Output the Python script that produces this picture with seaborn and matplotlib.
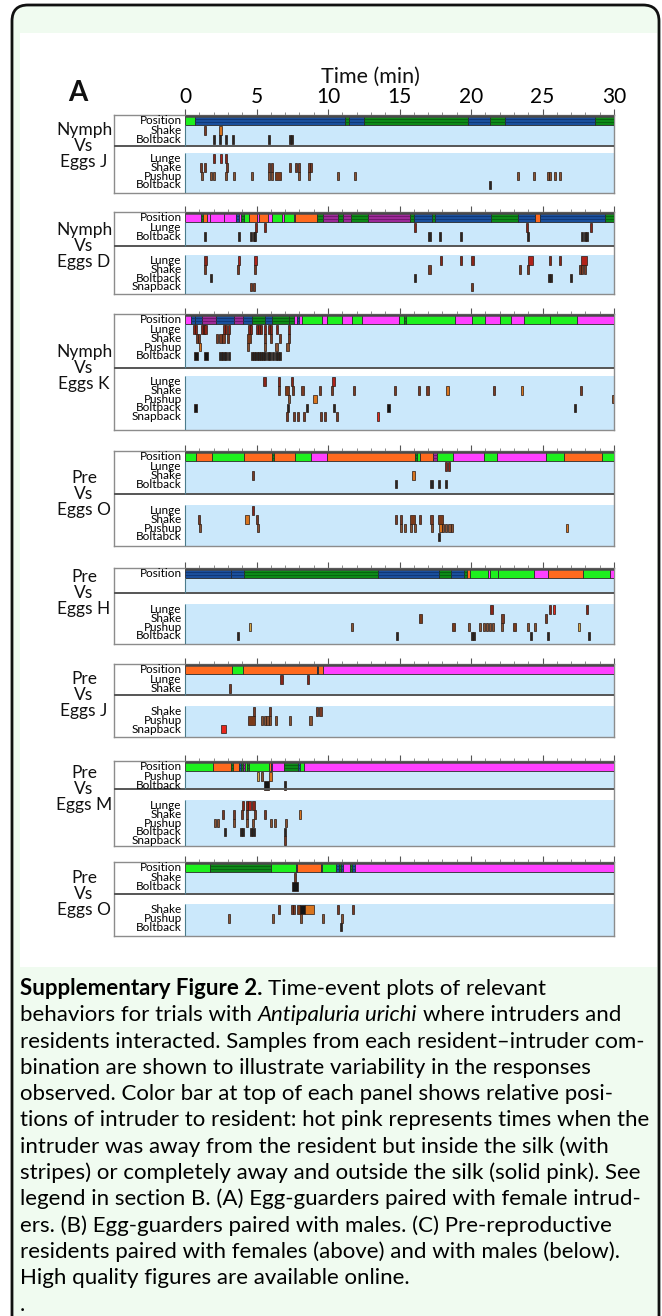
"""
Supplementary Figure 2 (panel A): time-event plots for Antipaluria urichi trials
"""
import matplotlib
matplotlib.use("Agg")
import matplotlib.pyplot as plt
from matplotlib.patches import FancyBboxPatch, Rectangle
import seaborn as sns

# ---------------------------------------------------------------------------
# data: position segments (start min, end min, code) and event times per row
# an event is a time (short mark) or (start, end, kind)
# codes: G light green, g dark green striped, b blue striped, p purple striped,
#        o orange, m hot pink
# ---------------------------------------------------------------------------
GROUPS = [("Nymph", "Eggs J"), ("Nymph", "Eggs D"), ("Nymph", "Eggs K"),
          ("Pre", "Eggs O"), ("Pre", "Eggs H"), ("Pre", "Eggs J"),
          ("Pre", "Eggs M"), ("Pre", "Eggs O")]

P1_POS = [(0, 0.73, 'G'), (0.73, 11.17, 'b'), (11.17, 11.5, 'g'), (11.5, 12.5, 'b'),
          (12.5, 19.8, 'g'), (19.8, 21.3, 'b'), (21.3, 22.4, 'g'), (22.4, 28.7, 'b'),
          (28.7, 30, 'g')]
P1_TOP = ["Shake", "Boltback"]
P1_TOP_EV = [[1.37, (2.4, 2.6, 'o')],
             [2.0, 2.46, 2.88, 3.37, 5.9, 7.33, 7.49]]
P1_BOT = ["Lunge", "Shake", "Pushup", "Boltback"]
P1_BOT_EV = [[2.0, (2.43, 2.62, 'r'), 2.88],
             [1.11, 1.37, 2.93, 5.85, 6.1, 7.33, 7.75, 7.98, 8.68, 8.83],
             [1.17, 1.84, 2.0, 2.88, 3.45, 4.69, 5.9, 6.1, (6.3, 6.7, 'w'), 7.98, 8.68,
              10.7, 11.9, 23.3, 24.4, 25.4, 25.55, 25.85, 26.2],
             [21.3]]

P2_POS = [(0, 1.1, 'm'), (1.1, 1.25, 'g'), (1.25, 1.55, 'o'), (1.55, 1.74, 'm'),
          (1.74, 2.7, 'm'), (2.7, 3.58, 'm'), (3.58, 3.76, 'b'), (3.76, 3.9, 'm'),
          (3.9, 4.1, 'g'), (4.1, 4.5, 'G'), (4.5, 5.05, 'o'), (5.05, 5.18, 'm'),
          (5.18, 5.78, 'o'), (5.78, 6.1, 'm'), (6.1, 6.75, 'G'), (6.75, 6.9, 'm'),
          (6.9, 7.6, 'G'), (7.6, 7.72, 'm'), (7.72, 9.2, 'o'), (9.2, 9.67, 'g'),
          (9.67, 10.7, 'p'), (10.7, 11.05, 'g'), (11.05, 11.6, 'p'), (11.6, 12.83, 'g'),
          (12.83, 15.7, 'p'), (15.7, 16.0, 'g'), (16.0, 17.27, 'b'), (17.27, 17.45, 'g'),
          (17.45, 21.4, 'b'), (21.4, 23.3, 'g'), (23.3, 24.5, 'b'), (24.5, 24.86, 'o'),
          (24.86, 29.4, 'b'), (29.4, 30, 'g')]
P2_TOP = ["Lunge", "Boltback"]
P2_TOP_EV = [[4.95, 5.6, 16.07, 23.9, 28.4],
             [1.37, 3.76, 4.64, 4.82, 4.9, 17.1, 17.85, 19.3, 24.0, 27.75, 27.95, 28.1]]
P2_BOT = ["Lunge", "Shake", "Boltback", "Snapback"]
P2_BOT_EV = [[1.43, (3.7, 3.85, 'r'), (4.85, 5.0, 'r'), 17.9, 19.3, 20.1, (24.0, 24.35, 'r'),
              25.5, 26.2, (27.7, 28.1, 'r')],
             [1.4, 3.7, 4.9, 17.1, 23.4, 24.0, 27.6, 27.75, 28.0],
             [1.81, 16.1, 25.45, 25.6, 27.0],
             [4.64, 4.82, 20.05]]

P3_POS = [(0, 0.4, 'm'), (0.4, 0.7, 'b'), (0.7, 1.2, 'b'), (1.2, 2.2, 'p'), (2.2, 3.4, 'b'),
          (3.4, 4.05, 'p'), (4.05, 4.7, 'b'), (4.7, 5.6, 'g'), (5.6, 6.1, 'b'), (6.1, 7.3, 'g'),
          (7.3, 7.6, 'g'), (7.6, 7.8, 'm'), (7.8, 8.0, 'b'), (8.0, 8.2, 'm'), (8.2, 9.6, 'G'),
          (9.6, 9.9, 'm'), (9.9, 11.0, 'G'), (11.0, 11.7, 'm'), (11.7, 12.4, 'G'),
          (12.4, 14.95, 'm'), (14.95, 15.3, 'G'), (15.3, 15.45, 'g'), (15.45, 18.9, 'G'),
          (18.9, 20.1, 'm'), (20.1, 21.0, 'G'), (21.0, 22.0, 'm'), (22.0, 22.8, 'G'),
          (22.8, 23.7, 'm'), (23.7, 25.5, 'G'), (25.5, 27.4, 'G'), (27.4, 30, 'm')]
P3_TOP = ["Lunge", "Shake", "Pushup", "Boltback"]
P3_TOP_EV = [[0.65, 0.78, 1.17, 1.3, 1.43, 2.74, 2.87, 3.05, 4.51, 4.64, 5.03, 5.17, 5.3,
              5.6, 5.87, 6.0, 6.44, 7.3],
             [0.86, 0.97, 2.22, 2.48, 2.69, 3.0, (4.35, 4.62, 'w'), 5.61, 6.0, 6.65, 7.3],
             [(0.95, 1.05, 'o'), 4.43, 5.6, 6.4, 7.17],
             [(0.6, 0.9, 'k'), (1.3, 1.6, 'k'), 2.48, 2.69, 2.87, 3.05, 4.7, 4.85, 5.0, 5.15,
              5.3, 5.45, 5.6, 5.8, 5.95, 6.13, 6.34, 6.52, 6.65]]
P3_BOT = ["Lunge", "Shake", "Pushup", "Boltback", "Snapback"]
P3_BOT_EV = [[5.56, 6.57, 7.49, (10.25, 10.5, 'r')],
             [6.6, (7.0, 7.25, 'w'), 7.54, 8.22, 9.47, 10.25, 11.82, 14.69, 16.36, 16.96,
              (18.25, 18.45, 'o'), 21.6, (23.5, 23.65, 'o'), 27.7],
             [7.3, (8.95, 9.25, 'o'), 29.92],
             [(0.6, 0.85, 'k'), 7.22, 8.55, 10.43, (14.1, 14.35, 'k'), 27.26],
             [7.12, 7.64, 7.9, 8.35, 9.52, 9.78, 10.6, (13.45, 13.6, 'R')]]

P4_POS = [(0, 0.78, 'G'), (0.78, 1.88, 'o'), (1.88, 4.14, 'G'), (4.14, 6.1, 'o'),
          (6.1, 6.25, 'g'), (6.25, 7.68, 'o'), (7.68, 8.78, 'G'), (8.78, 9.9, 'm'),
          (9.9, 16.07, 'o'), (16.07, 16.25, 'g'), (16.25, 16.4, 'G'), (16.4, 17.37, 'o'),
          (17.37, 17.6, 'p'), (17.6, 18.75, 'G'), (18.75, 20.9, 'm'), (20.9, 21.8, 'G'),
          (21.8, 25.23, 'm'), (25.23, 26.5, 'G'), (26.5, 29.17, 'o'), (29.17, 30, 'G')]
P4_TOP = ["Lunge", "Shake", "Boltback"]
P4_TOP_EV = [[18.23, 18.49],
             [4.74, (15.85, 16.1, 'o')],
             [14.77, 17.24, 17.76, 18.28]]
P4_BOT = ["Lunge", "Shake", "Pushup", "Boltabck"]
P4_BOT_EV = [[4.74],
             [0.96, (4.22, 4.5, 'o'), 5.05, 14.77, 15.1, (15.75, 16.1, 'w'), 16.46, 17.24,
              (17.7, 18.05, 'w')],
             [1.02, 5.13, 15.1, 15.36, 15.8, 16.07, 17.3, (17.75, 17.95, 'o'), 18.05, 18.25,
              18.5, 18.67, (26.65, 26.8, 'o')],
             [17.76]]

P5_POS = [(0, 3.2, 'b'), (3.2, 4.11, 'b'), (4.11, 13.49, 'g'), (13.49, 17.79, 'b'),
          (17.79, 18.57, 'g'), (18.57, 19.53, 'b'), (19.53, 19.7, 'g'), (19.7, 19.9, 'o'),
          (19.9, 21.17, 'G'), (21.17, 21.3, 'm'), (21.3, 21.9, 'G'), (21.9, 24.4, 'G'),
          (24.4, 25.4, 'm'), (25.4, 27.86, 'o'), (27.86, 29.74, 'G'), (29.74, 30, 'm')]
P5_TOP = []
P5_TOP_EV = []
P5_BOT = ["Lunge", "Shake", "Pushup", "Boltback"]
P5_BOT_EV = [[21.43, 25.5, (25.7, 25.9, 'R'), 28.1],
             [(16.35, 16.6, 'w'), 22.2, 25.26],
             [(4.5, 4.65, 'y'), 11.67, (18.65, 18.9, 'w'), 19.87, 20.6, 20.9, 21.1, 21.3,
              21.55, 22.14, (22.95, 23.15, 'w'), 24.0, 24.5, (27.45, 27.6, 'y')],
             [3.7, 14.8, 20.05, 20.18, 24.2, 25.4, 28.25]]

P6_POS = [(0, 3.32, 'o'), (3.32, 4.03, 'G'), (4.03, 9.22, 'o'), (9.22, 9.3, 'b'),
          (9.3, 9.66, 'o'), (9.66, 30, 'm')]
P6_TOP = ["Lunge", "Shake"]
P6_TOP_EV = [[6.75, 8.62],
             [3.12]]
P6_BOT = ["Shake", "Pushup", "Snapback"]
P6_BOT_EV = [[4.8, 5.97, 9.25, 9.48],
             [(4.38, 4.9, 'w'), 5.4, 5.6, 5.77, 5.92, 6.36, 7.35, 8.78],
             [(2.55, 2.85, 'R')]]

P7_POS = [(0, 1.94, 'G'), (1.94, 3.24, 'o'), (3.24, 3.37, 'g'), (3.37, 3.76, 'o'),
          (3.76, 3.9, 'b'), (3.9, 4.05, 'g'), (4.05, 4.2, 'p'), (4.2, 4.35, 'G'),
          (4.35, 4.5, 'g'), (4.5, 5.9, 'G'), (5.9, 6.0, 'o'), (6.0, 6.1, 'b'),
          (6.1, 6.94, 'm'), (6.94, 7.9, 'g'), (7.9, 8.05, 'b'), (8.05, 8.3, 'G'),
          (8.3, 30, 'm')]
P7_TOP = ["Pushup", "Boltback"]
P7_TOP_EV = [[(5.0, 5.12, 'y'), 5.36, (5.9, 6.02, 'o')],
             [(5.5, 5.85, 'k'), 7.0]]
P7_BOT = ["Lunge", "Shake", "Pushup", "Boltback", "Snapback"]
P7_BOT_EV = [[4.07, 4.33, (4.4, 4.6, 'r'), 4.79],
             [2.67, 3.42, 4.0, 4.35, 4.92, 5.57, (7.97, 8.12, 'o')],
             [2.07, 2.33, 3.42, 4.33, 4.74, 6.04, 6.27, 7.05],
             [2.8, 3.89, 4.07, 4.61, 4.79, 7.0],
             [7.0]]

P8_POS = [(0, 1.76, 'G'), (1.76, 6.04, 'g'), (6.04, 7.77, 'G'), (7.77, 7.82, 'b'),
          (7.82, 9.53, 'o'), (9.53, 9.58, 'b'), (9.58, 10.57, 'G'), (10.57, 10.75, 'b'),
          (10.75, 10.9, 'g'), (10.9, 11.06, 'b'), (11.06, 11.53, 'm'), (11.53, 11.7, 'g'),
          (11.7, 11.87, 'b'), (11.87, 30, 'm')]
P8_TOP = ["Shake", "Boltback"]
P8_TOP_EV = [[7.72],
             [(7.5, 7.9, 'k')]]
P8_BOT = ["Shake", "Pushup", "Boltback"]
P8_BOT_EV = [[6.6, 7.46, 7.65, (7.85, 8.05, 'w'), (8.05, 8.4, 'k'), (8.4, 9.05, 'o'),
              10.7, 11.74],
             [3.06, 6.14, 8.1, 9.64, 10.96],
             [10.88]]

TIME_TICKS = [0, 5, 10, 15, 20, 25, 30]

CAPTION = [
    [("Supplementary Figure 2.", 'b'), ("Time-event plots of relevant", '')],
    [("behaviors for trials with", ''), ("Antipaluria urichi", 'i'), ("where intruders and", '')],
    [("residents interacted. Samples from each resident\u2013intruder com-", '')],
    [("bination are shown to illustrate variability in the responses", '')],
    [("observed. Color bar at top of each panel shows relative posi-", '')],
    [("tions of intruder to resident: hot pink represents times when the", '')],
    [("intruder was away from the resident but inside the silk (with", '')],
    [("stripes) or completely away and outside the silk (solid pink). See", '')],
    [("legend in section B. (A) Egg-guarders paired with female intrud-", '')],
    [("ers. (B) Egg-guarders paired with males. (C) Pre-reproductive", '')],
    [("residents paired with females (above) and with males (below).", '')],
    [("High quality figures are available online.", '')],
    [(".", '')],
]

# ---------------------------------------------------------------------------
# layout (pixels): box top, divider, lower section start, box bottom
# ---------------------------------------------------------------------------
W, H = 662, 1316
X_BOX, X0, X_END = 114, 185, 614
PX_MIN = (X_END - X0) / 30.0
PANEL_GEOM = [(115, 146, 153, 193), (212, 246, 255, 294), (314, 368, 376, 430),
              (451, 494, 505, 546), (568, 593, 604, 644), (664, 695, 706, 737),
              (761, 789, 800, 846), (862, 894, 904, 936)]
ROW_H = 8.8

POS_COLORS = {'G': '#1ef01e', 'g': '#0d8a18', 'b': '#1a4f9c', 'p': '#9c2a98',
              'o': '#ff6a1e', 'm': '#ff40ff'}
STRIPE = {'g': '#075e0e', 'b': '#0f3470', 'p': '#6a1468'}
ROW_COLORS = {'Lunge': '#8a2418', 'Shake': '#7a3a24', 'Pushup': '#8a5232',
              'Boltback': '#262626', 'Boltabck': '#262626', 'Snapback': '#7a3a24'}
KIND_COLORS = {'r': '#b0221a', 'R': '#e8261a', 'o': '#d8741e', 'w': '#7a3a1a',
               'k': '#141414', 'y': '#d8a848'}
BLUE = '#cbe8fb'
LABEL_SIZE = 8.5

sns.set_theme(style="white")
plt.rcParams['font.family'] = ['Lato', 'DejaVu Sans']


def draw_rows(ax, labels, events, base):
    for k, (lab, evs) in enumerate(zip(labels, events)):
        yc = base + 5.5 + ROW_H * k
        ax.text(-0.22, yc, lab, ha='right', va='center', fontsize=LABEL_SIZE,
                color='black', zorder=6, linespacing=0.9)
        xs, ws, cs = [], [], []
        for e in evs:
            if isinstance(e, tuple):
                a, b, kind = e
                xs.append(a)
                ws.append(max(b - a, 0.15))
                cs.append(KIND_COLORS[kind])
            else:
                xs.append(e - 0.075)
                ws.append(0.15)
                cs.append(ROW_COLORS[lab])
        if xs:
            ax.bar(xs, 8.6, width=ws, bottom=yc - 4.3, align='edge', color=cs,
                   edgecolor='#2a1810', linewidth=0.5, zorder=3)


def draw_panel(fig, geom, pos, top_labels, top_ev, bot_labels, bot_ev, group, first):
    T, D, G, B = geom
    ax = fig.add_axes([X_BOX / W, 1 - B / H, (X_END - X_BOX) / W, (B - T) / H])
    ax.set_xlim(-(X0 - X_BOX) / PX_MIN, 30)
    ax.set_ylim(B - T, 0)
    ax.set_facecolor('white')
    ax.add_patch(Rectangle((0, 10), 30, D - T - 10, fc=BLUE, ec='none', zorder=0))
    ax.add_patch(Rectangle((0, G - T), 30, B - G, fc=BLUE, ec='none', zorder=0))
    ax.axhline(D - T, color='#555555', lw=1.4, zorder=5)
    ax.vlines(0, 10, D - T, color='#4c7c8c', lw=0.8, zorder=5)
    ax.vlines(0, G - T, B - T, color='#4c7c8c', lw=0.8, zorder=5)

    for s, e, c in pos:
        ax.bar(s, 9, width=e - s, bottom=1, align='edge', color=POS_COLORS[c],
               edgecolor='#2a2a2a', linewidth=0.6, zorder=3)
        if c in STRIPE:
            ax.hlines([3.6, 6.6], s, e, color=STRIPE[c], lw=0.6, zorder=4)
    ax.hlines(0.6, 0, 30, color='#4a4a4a', lw=1.8, zorder=5)
    ax.text(-0.22, 5.5, "Position", ha='right', va='center', fontsize=LABEL_SIZE,
            color='black')

    draw_rows(ax, top_labels, top_ev, 10)
    draw_rows(ax, bot_labels, bot_ev, G - T)

    for sp in ax.spines.values():
        sp.set_color('#8c8c8c')
        sp.set_linewidth(1)
    ax.set_yticks([])
    ax.xaxis.tick_top()
    ax.set_xticks(TIME_TICKS)
    ax.set_xticks(range(31), minor=True)
    ax.tick_params(axis='x', which='major', direction='out', length=4.5, width=0.8,
                   color='#555555', top=True, bottom=False, labeltop=first,
                   labelbottom=False, labelsize=15, labelcolor='black', pad=1)
    ax.tick_params(axis='x', which='minor', direction='out', length=2.5, width=0.6,
                   color='#777777', top=True, bottom=False)

    fig.text(84 / W, 1 - D / H, f"{group[0]}\nVs\n{group[1]}", ha='center', va='center',
             fontsize=12.5, linespacing=1.02, color='#111')
    return ax


fig = plt.figure(figsize=(W / 100, H / 100), dpi=100, facecolor='white')
bg = fig.add_axes([0, 0, 1, 1])
bg.set_xlim(0, W)
bg.set_ylim(H, 0)
bg.axis('off')
bg.add_patch(FancyBboxPatch((12, 5), 647, 1420, boxstyle='round,pad=0,rounding_size=16',
                            fc='#f0fbf0', ec='#111111', lw=2))
bg.add_patch(Rectangle((20, 33), 637, 934, fc='white', ec='none'))

panels = [
    (P1_POS, P1_TOP, P1_TOP_EV, P1_BOT, P1_BOT_EV),
    (P2_POS, P2_TOP, P2_TOP_EV, P2_BOT, P2_BOT_EV),
    (P3_POS, P3_TOP, P3_TOP_EV, P3_BOT, P3_BOT_EV),
    (P4_POS, P4_TOP, P4_TOP_EV, P4_BOT, P4_BOT_EV),
    (P5_POS, P5_TOP, P5_TOP_EV, P5_BOT, P5_BOT_EV),
    (P6_POS, P6_TOP, P6_TOP_EV, P6_BOT, P6_BOT_EV),
    (P7_POS, P7_TOP, P7_TOP_EV, P7_BOT, P7_BOT_EV),
    (P8_POS, P8_TOP, P8_TOP_EV, P8_BOT, P8_BOT_EV),
]
for i, (pos, tl, te, bl, be) in enumerate(panels):
    draw_panel(fig, PANEL_GEOM[i], pos, tl, te, bl, be, GROUPS[i], i == 0)

bg.text(78, 93, "A", fontsize=20, fontweight='bold', ha='center', va='center', color='#111')
bg.text(370, 77, "Time (min)", fontsize=15.5, ha='center', va='center', color='#111')

# caption, sized so the widest line spans the box
rend = fig.canvas.get_renderer()


def text_width(s, size, **kw):
    t = bg.text(0, 0, s, fontsize=size, **kw)
    w = t.get_window_extent(rend).width
    t.remove()
    return w


size = 14
size = size * 630 / text_width(CAPTION[5][0][0], size)
space = text_width("a a", size) - text_width("aa", size)
for i, line in enumerate(CAPTION):
    x = 20
    y = 995 + 26.3 * i
    for txt, style in line:
        kw = {}
        if style == 'b':
            kw['fontweight'] = 'bold'
        elif style == 'i':
            kw['fontstyle'] = 'italic'
        t = bg.text(x, y, txt, fontsize=size, ha='left', va='baseline', color='black', **kw)
        x += t.get_window_extent(rend).width + space

fig.savefig("out.png", dpi=100, facecolor='white')
